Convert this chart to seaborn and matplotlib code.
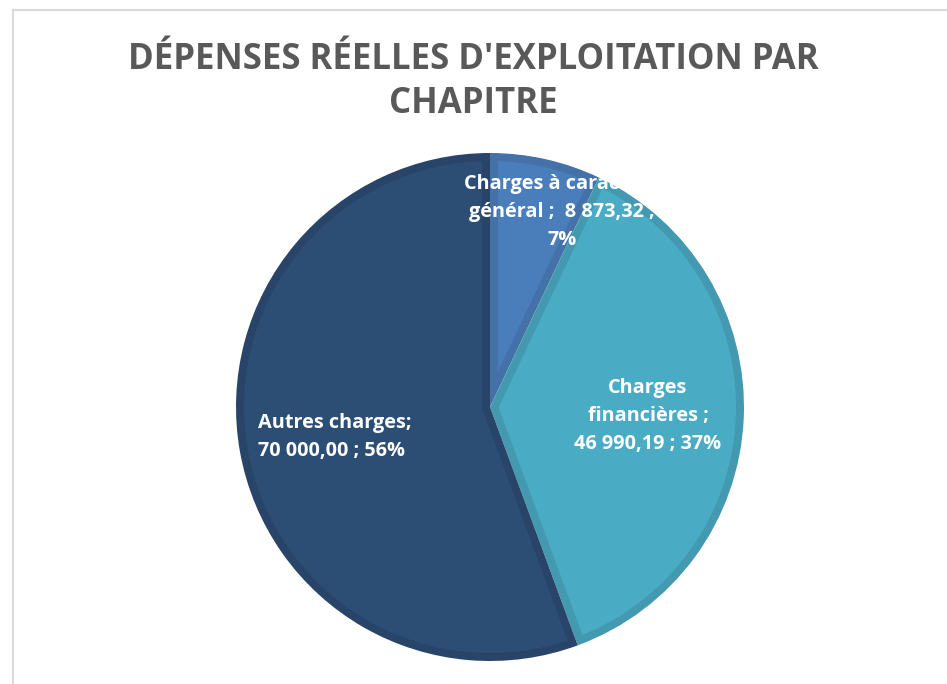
import matplotlib
matplotlib.use("Agg")
import matplotlib.pyplot as plt
from matplotlib.patches import Wedge
import numpy as np
import seaborn as sns

sns.set_theme(style="white")
plt.rcParams['font.family'] = ['Open Sans', 'DejaVu Sans']

# data
categories = ["Charges à caractère général", "Charges financières", "Autres charges"]
values = [8873.32, 46990.19, 70000.00]
label_texts = ["Charges à caractère\ngénéral ;  8 873,32 ;\n7%",
               "Charges\nfinancières ;\n46 990,19 ; 37%",
               "Autres charges;\n70 000,00 ; 56%"]
face_colors = ["#4a7ebb", "#4aabc5", "#2c4d74"]
band_colors = ["#4371a8", "#4399b0", "#284569"]


def inset_wedge(cx, cy, r, t1, t2, d):
    # polygon of a wedge shrunk by d on every side (gives the bevel band look)
    span = np.radians(t2 - t1)
    mid = np.radians((t1 + t2) / 2)
    off = d / np.sin(span / 2) if span < np.pi else d
    px, py = off * np.cos(mid), off * np.sin(mid)
    R = r - d
    angs = []
    for t in (t1, t2):
        ux, uy = np.cos(np.radians(t)), np.sin(np.radians(t))
        pu = px * ux + py * uy
        s = -pu + np.sqrt(pu ** 2 - (px ** 2 + py ** 2) + R ** 2)
        angs.append(np.arctan2(py + s * uy, px + s * ux))
    a1, a2 = angs
    if a2 < a1:
        a2 += 2 * np.pi
    arc = np.linspace(a1, a2, 200)
    xs = np.concatenate([[cx + px], cx + R * np.cos(arc)])
    ys = np.concatenate([[cy + py], cy + R * np.sin(arc)])
    return xs, ys


fig = plt.figure(figsize=(9.47, 6.84), dpi=100)
ax = fig.add_axes([0, 0, 1, 1])

cx, cy, rad = 490, 684 - 407, 254
wedges, _ = ax.pie(values, startangle=90, counterclock=False, colors=band_colors,
                   center=(cx, cy), radius=rad, frame=True,
                   wedgeprops=dict(linewidth=0))
ax.set_xlim(0, 947)
ax.set_ylim(0, 684)
ax.set_aspect("auto")
ax.axis("off")

for i, w in enumerate(wedges):
    xs, ys = inset_wedge(w.center[0], w.center[1], w.r, w.theta1, w.theta2, 8)
    ax.fill(xs, ys, color=face_colors[i], lw=0, zorder=w.get_zorder() + 0.1)

# data labels
ax.text(562, 684 - 212, label_texts[0], color="white", fontsize=14.3, fontweight="bold",
        ha="center", va="center", linespacing=1.55, zorder=10)
ax.text(648, 684 - 416, label_texts[1], color="white", fontsize=14.3, fontweight="bold",
        ha="center", va="center", linespacing=1.55, zorder=10)
ax.text(258, 684 - 437, label_texts[2], color="white", fontsize=14.3, fontweight="bold",
        ha="left", va="center", linespacing=1.55, zorder=10)

# the small slice's label is cut off at the pie's rim: hide what spills outside
ax.add_patch(Wedge((cx, cy), rad + 50, 0, 90, width=49.5, color="white", lw=0,
                   zorder=11, clip_on=False))

# title
fig.text(0.5, 1 - 82 / 684, "DÉPENSES RÉELLES D'EXPLOITATION PAR\nCHAPITRE",
         ha="center", va="center", fontsize=25, fontweight="bold", color="#595959",
         linespacing=1.3)

# chart area border (top and left visible)
fig.add_artist(plt.Line2D([13 / 947, 1], [1 - 10 / 684, 1 - 10 / 684], color="#d9d9d9", lw=1.5))
fig.add_artist(plt.Line2D([13 / 947, 13 / 947], [0, 1 - 10 / 684], color="#d9d9d9", lw=1.5))

fig.savefig("out.png", dpi=100)
